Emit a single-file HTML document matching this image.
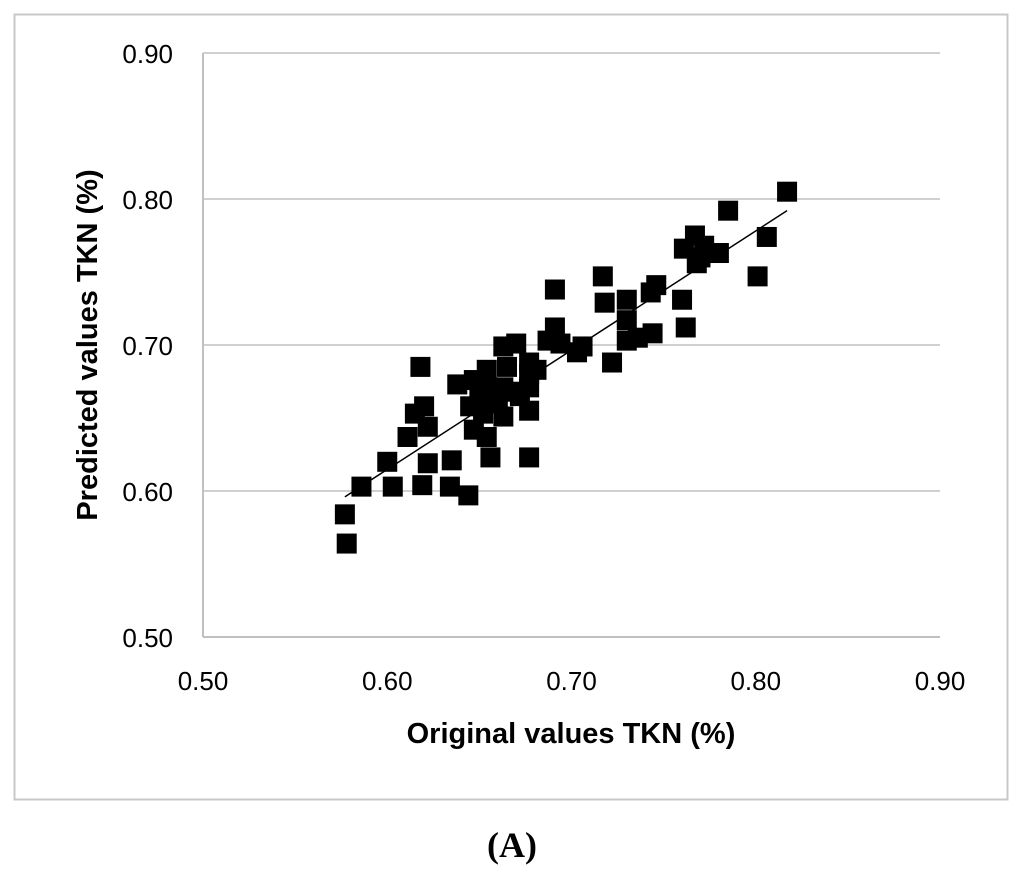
<!DOCTYPE html>
<html><head><meta charset="utf-8"><style>
html,body{margin:0;padding:0;background:#fff;width:1024px;height:875px;overflow:hidden}
svg text{font-family:"Liberation Sans",sans-serif}
</style></head><body>
<svg id="chart" width="1024" height="875" xmlns="http://www.w3.org/2000/svg">
<rect x="14.5" y="14.5" width="993" height="785" fill="#fff" stroke="#c8c8c8" stroke-width="2"/>
<g id="grid"></g><g id="axes"></g><g id="pts"></g><g id="trend"></g>
<text x="571" y="743" text-anchor="middle" font-size="29" font-weight="bold" fill="#000">Original values TKN (%)</text>
<text transform="translate(97,345) rotate(-90)" text-anchor="middle" font-size="29" font-weight="bold" fill="#000">Predicted values TKN (%)</text>
<text x="512" y="857" text-anchor="middle" font-size="36" font-weight="bold" style="font-family:'Liberation Serif',serif" fill="#000">(A)</text>
</svg>
<script>
const xTicks=[0.5,0.6,0.7,0.8,0.9];
const yTicks=[0.5,0.6,0.7,0.8,0.9];
const tickLabels=["0.50","0.60","0.70","0.80","0.90"];
const xVals=[0.577,0.578,0.586,0.600,0.603,0.611,0.618,0.615,0.620,0.622,0.622,0.619,0.635,0.634,0.644,0.638,0.647,0.645,0.647,0.654,0.656,0.654,0.663,0.670,0.677,0.677,0.677,0.663,0.652,0.663,0.677,0.665,0.687,0.691,0.691,0.694,0.703,0.706,0.681,0.722,0.717,0.718,0.730,0.730,0.730,0.736,0.744,0.743,0.746,0.760,0.762,0.761,0.767,0.768,0.780,0.785,0.806,0.801,0.817,0.772,0.770,0.650,0.655,0.660,0.667,0.672,0.677];
const yVals=[0.584,0.564,0.603,0.620,0.603,0.637,0.685,0.653,0.658,0.644,0.619,0.604,0.621,0.603,0.597,0.673,0.676,0.658,0.642,0.637,0.623,0.683,0.699,0.701,0.688,0.655,0.623,0.651,0.653,0.671,0.671,0.685,0.703,0.738,0.712,0.701,0.695,0.699,0.683,0.688,0.747,0.729,0.731,0.717,0.703,0.705,0.708,0.736,0.741,0.731,0.712,0.766,0.775,0.756,0.763,0.792,0.774,0.747,0.805,0.768,0.760,0.665,0.670,0.660,0.668,0.665,0.680];
const trendX=[0.577,0.817];
const trendY=[0.596,0.792];
const NS="http://www.w3.org/2000/svg";
const X0=203,X1=940,Y0=637,Y1=53;
const sx=v=>X0+(v-0.5)/0.4*(X1-X0);
const sy=v=>Y0-(v-0.5)/0.4*(Y0-Y1);
function mk(tag,attrs,parent){const e=document.createElementNS(NS,tag);for(const k in attrs)e.setAttribute(k,attrs[k]);parent.appendChild(e);return e;}
const grid=document.getElementById('grid'),axes=document.getElementById('axes'),pts=document.getElementById('pts'),tr=document.getElementById('trend');
yTicks.forEach((t,i)=>{
 if(i>0){const l=mk('line',{x1:X0,x2:X1,y1:sy(t),y2:sy(t),stroke:'#d0d0d0','stroke-width':2},grid);
 
 }
 const tx=mk('text',{x:173,y:sy(t)+10,'text-anchor':'end','font-size':26,fill:'#000'},axes);tx.textContent=tickLabels[i];
 
 
});
xTicks.forEach((t,i)=>{
 const tx=mk('text',{x:sx(t),y:690,'text-anchor':'middle','font-size':26,fill:'#000'},axes);tx.textContent=tickLabels[i];
 
 
});
const ya=mk('line',{x1:X0,x2:X0,y1:Y1,y2:Y0,stroke:'#c0c0c0','stroke-width':2},axes);


const xa=mk('line',{x1:X0,x2:X1,y1:Y0,y2:Y0,stroke:'#c0c0c0','stroke-width':2},axes);


xVals.forEach((v,i)=>{
 const r=mk('rect',{x:sx(v)-10,y:sy(yVals[i])-10,width:20,height:20,fill:'#000'},pts);
 
 
});
const tl=mk('line',{x1:sx(trendX[0]),y1:sy(trendY[0]),x2:sx(trendX[1]),y2:sy(trendY[1]),stroke:'#000','stroke-width':1.5},tr);


</script>
</body></html>
